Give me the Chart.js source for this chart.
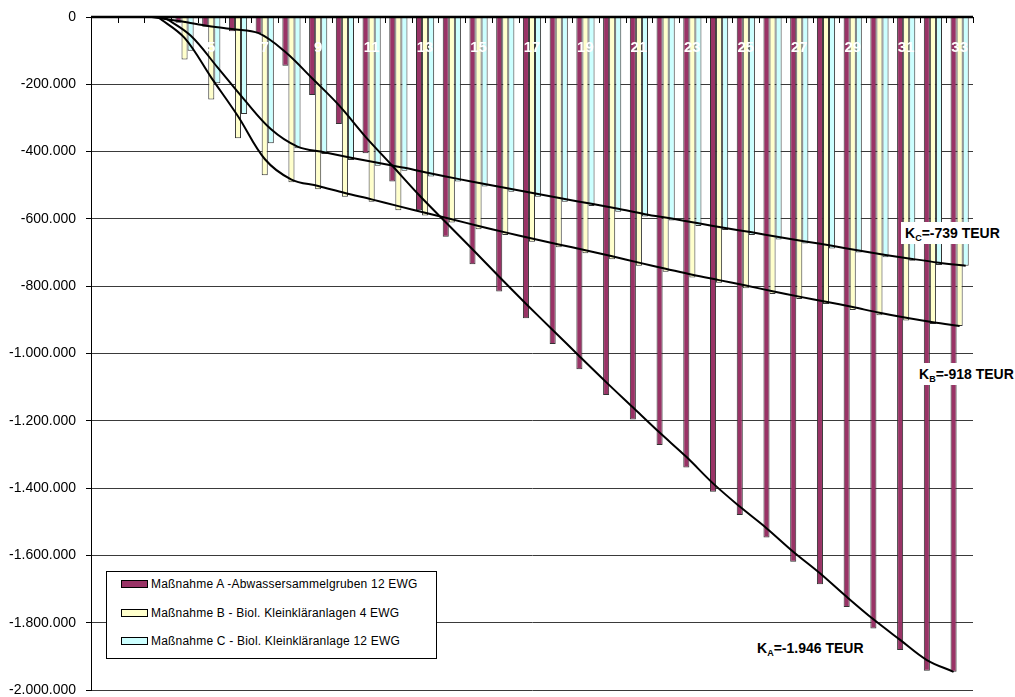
<!DOCTYPE html>
<html>
<head>
<meta charset="utf-8">
<script src="https://cdn.jsdelivr.net/npm/chart.js@4.4.0/dist/chart.umd.min.js"></script>
<style>
  body { margin: 0; background: #fff; overflow: hidden; }
  #wrap { position: relative; width: 1015px; height: 697px; font-family: "Liberation Sans", Arial, sans-serif; }
  #legend { position: absolute; left: 106px; top: 571px; width: 329px; height: 86px; border: 1px solid #000; background: #fff; }
  #legend .row { position: absolute; left: 14px; height: 16px; line-height: 16px; font-size: 12px; letter-spacing: 0.2px; color: #000; white-space: nowrap; }
  #legend .sw { display: inline-block; width: 25px; height: 6px; border: 1px solid #000; vertical-align: middle; margin-right: 3px; position: relative; top: -1px; }
  .klabel { position: absolute; font-weight: bold; font-size: 14px; color: #000; background: #fff; white-space: nowrap; line-height: 22px; padding: 0 4px; }
  .klabel sub { font-size: 9px; vertical-align: -3px; line-height: 0; }
</style>
</head>
<body>
<div id="wrap">
  <canvas id="chart" width="1015" height="697"></canvas>
  <div id="legend"></div>
  <div class="klabel" style="left:901px; top:222px;">K<sub>C</sub>=-739 TEUR</div>
  <div class="klabel" style="left:915px; top:363px;">K<sub>B</sub>=-918 TEUR</div>
  <div class="klabel" style="left:753px; top:637px;">K<sub>A</sub>=-1.946 TEUR</div>
</div>
<script>
// Jahre 1..33
const categories = [1, 2, 3, 4, 5, 6, 7, 8, 9, 10, 11, 12, 13, 14, 15, 16, 17,
    18, 19, 20, 21, 22, 23, 24, 25, 26, 27, 28, 29, 30, 31, 32, 33];

const seriesNames = [
    "Maßnahme A -Abwassersammelgruben 12 EWG",
    "Maßnahme B - Biol. Kleinkläranlagen 4 EWG",
    "Maßnahme C - Biol. Kleinkläranlage 12 EWG"
];
const seriesColors = ["#993366", "#FFFFCC", "#CCFFFF"];

// Balken (EUR)
const barsA = [0, 0, 0, -17000, -29000, -42000, -48000, -145000, -232000, -318000, -405000,
    -489000, -574000, -653000, -735000, -816000, -895000, -972000, -1047000, -1123000,
    -1196000, -1272000, -1339000, -1411000, -1480000, -1547000, -1619000, -1686000,
    -1753000, -1817000, -1881000, -1943000, -1946000];
const barsB = [0, 0, 0, -126000, -245000, -360000, -470000, -491000, -512000, -534000, -549000,
    -574000, -590000, -611000, -631000, -648000, -668000, -684000, -702000, -720000,
    -739000, -757000, -774000, -790000, -806000, -823000, -838000, -853000,
    -871000, -886000, -902000, -912000, -918000];
const barsC = [0, 0, 0, -100000, -197000, -288000, -375000, -390000, -407000, -425000, -442000,
    -457000, -474000, -489000, -504000, -519000, -534000, -549000, -562000, -579000,
    -593000, -605000, -621000, -633000, -648000, -661000, -673000, -688000,
    -700000, -714000, -724000, -737000, -739000];

// Kurven (EUR)
const lineA = [null, null, 0, -12000, -25000, -36000, -48000, -104000, -182000, -262000, -356000,
    -442000, -529000, -610000, -690000, -772000, -852000, -930000, -1008000, -1085000,
    -1160000, -1235000, -1307000, -1386000, -1455000, -1519000, -1589000, -1653000,
    -1723000, -1790000, -1851000, -1911000, -1946000];
const lineB = [null, null, 0, -62000, -180000, -295000, -422000, -483000, -502000, -523000, -542000,
    -562000, -582000, -601000, -621000, -640000, -658000, -676000, -693000, -711000,
    -730000, -748000, -766000, -782000, -798000, -815000, -831000, -846000,
    -862000, -879000, -894000, -907000, -918000];
const lineC = [null, null, 0, -55000, -149000, -245000, -333000, -385000, -402000, -418000, -433000,
    -448000, -465000, -481000, -496000, -511000, -526000, -541000, -555000, -570000,
    -586000, -599000, -613000, -627000, -640000, -654000, -667000, -680000,
    -694000, -707000, -719000, -730000, -739000];

const yTicks = [0, -200000, -400000, -600000, -800000, -1000000, -1200000, -1400000,
    -1600000, -1800000, -2000000];

const catPct = 0.68;
const barShift = catPct / 3;

function fmt(v) {
    const s = String(Math.abs(v)).replace(/\B(?=(\d{3})+(?!\d))/g, ".");
    return (v < 0 ? "-" : "") + s;
}

function bar(i, data) {
    return {
        type: "bar",
        label: seriesNames[i],
        data: categories.map((c, k) => ({ x: c, y: data[k] })),
        backgroundColor: seriesColors[i],
        borderColor: "#333",
        borderWidth: 1,
        categoryPercentage: catPct,
        barPercentage: 1.0,
        order: 1
    };
}

function curve(data, shift) {
    return {
        type: "line",
        data: categories.map((c, k) => ({ x: c + shift, y: data[k] })),
        borderColor: "#000",
        borderWidth: 2,
        pointRadius: 0,
        tension: 0.35,
        fill: false,
        order: 0
    };
}

const topAxis = {
    id: "topAxis",
    afterDatasetsDraw(chart) {
        const ctx = chart.ctx, x = chart.scales.x, area = chart.chartArea;
        ctx.save();
        ctx.strokeStyle = "#000";
        ctx.lineWidth = 1;
        ctx.beginPath();
        categories.concat([categories.length + 1]).forEach(c => {
            const px = Math.round(x.getPixelForValue(c - 0.5)) + 0.5;
            ctx.moveTo(px, area.top);
            ctx.lineTo(px, area.top + 6);
        });
        ctx.stroke();
        ctx.lineWidth = 2.5;
        ctx.beginPath();
        ctx.moveTo(area.left, area.top);
        ctx.lineTo(area.right, area.top);
        ctx.stroke();
        ctx.fillStyle = "#fff";
        ctx.font = 'bold 15px "Liberation Sans", Arial, sans-serif';
        ctx.textAlign = "center";
        ctx.textBaseline = "middle";
        categories.forEach(c => {
            if (c % 2 === 1) ctx.fillText(String(c), x.getPixelForValue(c), area.top + 31);
        });
        ctx.restore();
    }
};

const chart = new Chart(document.getElementById("chart"), {
    type: "bar",
    data: {
        datasets: [
            bar(0, barsA), bar(1, barsB), bar(2, barsC),
            curve(lineA, -barShift), curve(lineB, 0), curve(lineC, barShift)
        ]
    },
    options: {
        responsive: false,
        animation: false,
        events: [],
        layout: { padding: { top: 17, bottom: 7, right: 42, left: 0 } },
        plugins: { legend: { display: false }, tooltip: { enabled: false } },
        scales: {
            x: {
                type: "linear", display: false, offset: false,
                min: 0.5, max: 33.5,
                grid: { offset: false }
            },
            y: {
                min: -2000000,
                max: 0,
                afterBuildTicks(s) { s.ticks = yTicks.map(v => ({ value: v })); },
                afterFit(s) { s.width = 91; s.paddingTop = 0; s.paddingBottom = 0; },
                ticks: {
                    color: "#000",
                    padding: 10,
                    font: { family: '"Liberation Sans", Arial, sans-serif', size: 14 },
                    callback: v => fmt(v)
                },
                grid: { color: "#3a3a3a", tickColor: "#000", tickLength: 5, lineWidth: 1 },
                border: { display: true, color: "#000", width: 1 }
            }
        }
    },
    plugins: [topAxis]
});

// Legende
const legend = document.getElementById("legend");
const rowTops = [4, 33, 61];
seriesNames.forEach((name, i) => {
    const row = document.createElement("div");
    row.className = "row";
    row.style.top = rowTops[i] + "px";
    const sw = document.createElement("span");
    sw.className = "sw";
    sw.style.background = seriesColors[i];
    row.appendChild(sw);
    row.appendChild(document.createTextNode(name));
    legend.appendChild(row);
});
</script>
</body>
</html>
